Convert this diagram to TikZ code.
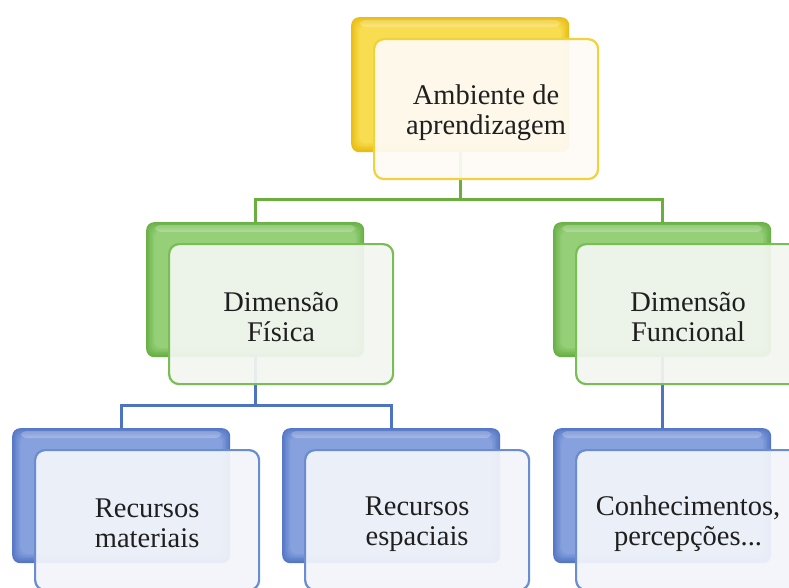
\documentclass[tikz,border=0pt]{standalone}
\usepackage{fontspec}
\setmainfont{Liberation Serif}
\definecolor{ybackout}{HTML}{E9BE14}
\definecolor{ybackin}{HTML}{F9DD50}
\definecolor{yborder}{HTML}{F0D23A}
\definecolor{yfront}{HTML}{FEFBF6}
\definecolor{gbackout}{HTML}{69B046}
\definecolor{gbackin}{HTML}{95CF78}
\definecolor{gborder}{HTML}{7ABD55}
\definecolor{gfront}{HTML}{F3F6F1}
\definecolor{bbackout}{HTML}{5577C5}
\definecolor{bbackin}{HTML}{86A1DD}
\definecolor{bborder}{HTML}{6A8CD0}
\definecolor{bfront}{HTML}{F3F5FA}
\definecolor{glink}{HTML}{6AAF3D}
\definecolor{blink}{HTML}{4C74C2}
\newcommand{\pushdown}{\rule{0pt}{26pt}}
\begin{document}
\begin{tikzpicture}[x=1pt,y=-1pt,
  backbox/.style={rectangle, inner sep=0pt, rounded corners=8pt,
    minimum width=218pt, minimum height=135pt, anchor=north west},
  frontbox/.style={rectangle, inner sep=0pt, rounded corners=10pt,
    minimum width=224pt, minimum height=140pt, anchor=north west,
    line width=2.2pt, fill opacity=0.93, text opacity=1, align=center,
    text=black!88, font=\fontsize{28.5}{30}\selectfont},
  yback/.style={backbox, fill=ybackout},
  gback/.style={backbox, fill=gbackout},
  bback/.style={backbox, fill=bbackout},
  yfrontbox/.style={frontbox, fill=yfront, draw=yborder},
  gfrontbox/.style={frontbox, fill=gfront, draw=gborder},
  bfrontbox/.style={frontbox, fill=bfront, draw=bborder},
  glinkstyle/.style={draw=glink, line width=2.6pt},
  blinkstyle/.style={draw=blink, line width=2.6pt}]
\clip (0,0) rectangle (789,588);
\fill[white] (0,0) rectangle (789,588);

% back (shadow) boxes
\node[yback] (tb)  at (351,17)  {};
\node[gback] (glb) at (146,222) {};
\node[gback] (grb) at (553,222) {};
\node[bback] (b1b) at (12,428)  {};
\node[bback] (b2b) at (282,428) {};
\node[bback] (b3b) at (553,428) {};

% soft bevel: stepped inner faces of the back boxes
\foreach \n/\o/\c in {tb/ybackout/ybackin, glb/gbackout/gbackin, grb/gbackout/gbackin,
                      b1b/bbackout/bbackin, b2b/bbackout/bbackin, b3b/bbackout/bbackin}{
  \foreach \k in {1,...,6}{
    \pgfmathsetmacro{\mix}{\k*16.6}
    \pgfmathsetmacro{\ins}{\k*1.4}
    \fill[\c!\mix!\o, rounded corners=7pt]
      ([shift={(\ins,\ins)}]\n.north west) rectangle ([shift={(-\ins,-\ins-1)}]\n.south east);
  }
  \fill[white, opacity=0.22, rounded corners=5pt]
    ([shift={(9,3)}]\n.north west) rectangle ([shift={(-9,10)}]\n.north east);
}

% connectors
\draw[glinkstyle] (tb.south) -- ++(0,47) -| (glb.north);
\draw[glinkstyle] (tb.south) -- ++(0,47) -| (grb.north);
\draw[blinkstyle] (glb.south) -- ++(0,48) -| (b1b.north);
\draw[blinkstyle] (glb.south) -- ++(0,48) -| (b2b.north);
\draw[blinkstyle] (grb.south) -- (b3b.north);

% front boxes with text
\node[yfrontbox] (tf)  at ([shift={(22,21)}]tb.north west)  {\pushdown Ambiente de\\aprendizagem};
\node[gfrontbox] (glf) at ([shift={(22,21)}]glb.north west) {\pushdown Dimensão\\Física};
\node[gfrontbox] (grf) at ([shift={(22,21)}]grb.north west) {\pushdown Dimensão\\Funcional};
\node[bfrontbox] (b1f) at ([shift={(22,21)}]b1b.north west) {\pushdown Recursos\\materiais};
\node[bfrontbox] (b2f) at ([shift={(22,21)}]b2b.north west) {\pushdown Recursos\\espaciais};
\node[bfrontbox] (b3f) at ([shift={(22,21)}]b3b.north west) {\pushdown Conhecimentos,\\percepções...};
\end{tikzpicture}
\end{document}
